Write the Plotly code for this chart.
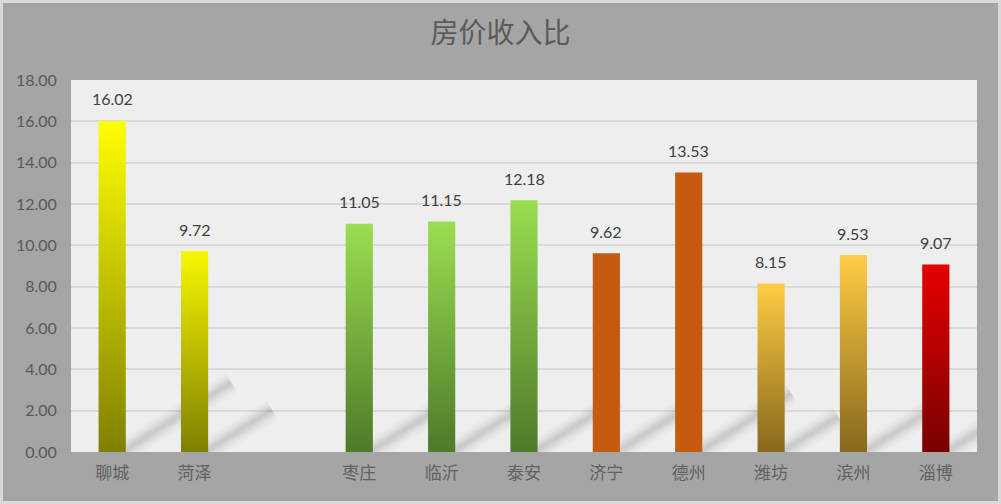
import plotly.graph_objects as go

# 房价收入比 data
cities = ["聊城", "菏泽", "", "枣庄", "临沂", "泰安", "济宁", "德州", "潍坊", "滨州", "淄博"]
ratios = [16.02, 9.72, None, 11.05, 11.15, 12.18, 9.62, 13.53, 8.15, 9.53, 9.07]

# bar colours: (top, bottom) of the vertical gradient
top_colors = ["#ffff00", "#f7f700", None, "#9ade50", "#9ade50", "#9ade50",
              "#c55a11", "#c55a11", "#ffcc44", "#ffcc44", "#e60000"]
bottom_colors = ["#808000", "#808000", None, "#4e7a2a", "#4e7a2a", "#4e7a2a",
                 "#c55a11", "#c55a11", "#87681c", "#87681c", "#780000"]

bar_w = 0.33
W, H = 1001, 504

fig = go.Figure()

# blurred diagonal shadow streaks behind the bars (length follows bar height)
for i, v in enumerate(ratios):
    if v is None:
        continue
    x1 = i + bar_w / 2
    for width, alpha in [(22, 0.02), (17, 0.025), (12, 0.03), (8, 0.035), (4, 0.035)]:
        fig.add_trace(go.Scatter(
            x=[x1 - 0.08, x1 + 0.08 * v], y=[-0.1, 0.21 * v],
            mode="lines", line=dict(width=width, color=f"rgba(0,0,0,{alpha})"),
            hoverinfo="skip", showlegend=False,
        ))

for i, v in enumerate(ratios):
    if v is None:
        continue
    x0, x1 = i - bar_w / 2, i + bar_w / 2
    fig.add_trace(go.Scatter(
        x=[x0, x1, x1, x0, x0], y=[0, 0, v, v, 0],
        mode="lines", fill="toself", line=dict(width=0),
        fillgradient=dict(type="vertical",
                          colorscale=[[0, bottom_colors[i]], [1, top_colors[i]]]),
        hoverinfo="skip", showlegend=False,
    ))
    fig.add_annotation(x=i, y=v, text=f"{v:.2f}", showarrow=False,
                       yshift=22, font=dict(family="Lato", size=16, color="#404040"))

# light outer border
fig.add_shape(type="rect", xref="paper", yref="paper",
              x0=-71 / 906, x1=(W - 71) / 906, y0=-52 / 372, y1=(H - 52) / 372,
              line=dict(color="#d9d9d9", width=6), fillcolor="rgba(0,0,0,0)")

fig.update_layout(
    width=W, height=H,
    margin=dict(l=71, r=24, t=80, b=52),
    paper_bgcolor="#a5a5a5",
    plot_bgcolor="#eeeeee",
    title=dict(text="房价收入比", x=0.5, xref="container", xanchor="center",
               y=0.935, yanchor="middle",
               font=dict(family="Noto Sans CJK SC", size=28, color="#5a5a5a")),
    xaxis=dict(range=[-0.5, len(cities) - 0.5], tickvals=list(range(len(cities))),
               ticktext=cities, showgrid=False, zeroline=False, showline=False,
               ticks="outside", ticklen=6, tickcolor="rgba(0,0,0,0)",
               tickfont=dict(family="Noto Sans CJK SC", size=17, color="#606060")),
    yaxis=dict(range=[0, 18], dtick=2, tickformat=".2f", showgrid=True,
               gridcolor="#d9d9d9", gridwidth=1.5, zeroline=False, showline=False,
               ticks="outside", ticklen=10, tickcolor="rgba(0,0,0,0)",
               tickfont=dict(family="Lato", size=16, color="#595959")),
)

fig.write_html("out.html", config={"displayModeBar": False},
               post_script="document.body.style.margin='0';")
